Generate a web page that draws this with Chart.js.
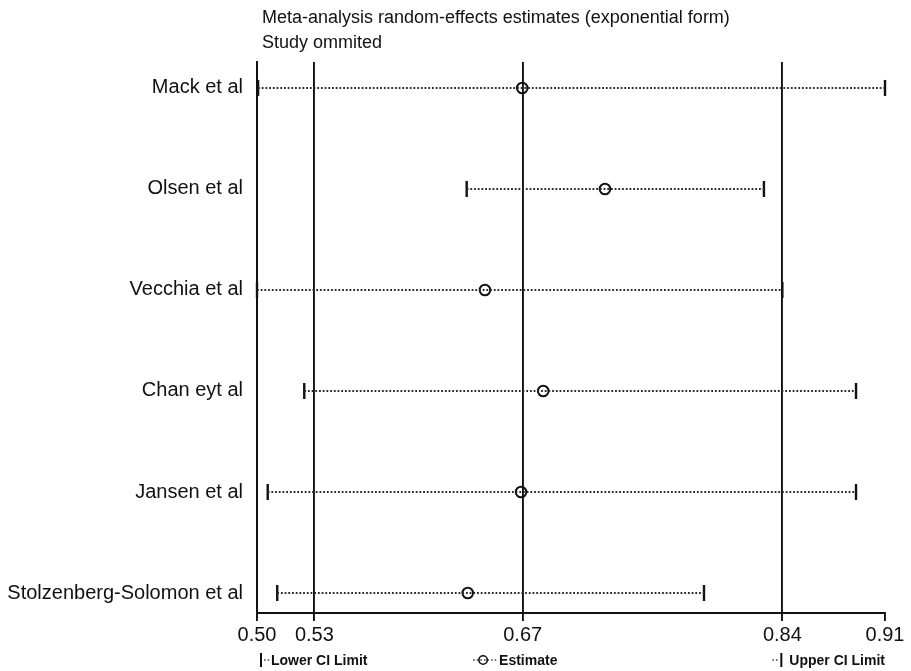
<!DOCTYPE html>
<html>
<head>
<meta charset="utf-8">
<script src="https://cdn.jsdelivr.net/npm/chart.js@4.4.1/dist/chart.umd.min.js"></script>
<style>
html,body{margin:0;padding:0;background:#fff;}
#wrap{width:911px;height:671px;}
</style>
</head>
<body>
<div id="wrap"><canvas id="c" width="911" height="671"></canvas></div>
<script>
const studies = ['Mack et al', 'Olsen et al', 'Vecchia et al', 'Chan eyt al', 'Jansen et al', 'Stolzenberg-Solomon et al'];
const estimate = [0.6722, 0.7270, 0.6475, 0.6861, 0.6714, 0.6361];
const lowerCI  = [0.4972, 0.6354, 0.4965, 0.5278, 0.5036, 0.5099];
const upperCI  = [0.9125, 0.8323, 0.8445, 0.8933, 0.8933, 0.7926];
const tickValues = [0.4965, 0.5345, 0.6725, 0.8445, 0.9125];
const titleLines = ['Meta-analysis random-effects estimates (exponential form)', 'Study ommited'];
const legendLabels = ['Lower CI Limit', 'Estimate', 'Upper CI Limit'];

const INK = '#111';
const FONT = "'Liberation Sans', Arial, sans-serif";

const rows = studies.map((s, i) => i + 1);

const datasets = [];
studies.forEach((s, i) => {
  datasets.push({
    label: s + ' CI',
    data: [{x: lowerCI[i], y: rows[i]}, {x: upperCI[i], y: rows[i]}],
    showLine: true,
    borderColor: '#2a2a2a',
    borderWidth: 1.9,
    borderDash: [1.8, 1.9],
    pointRadius: 0
  });
});
datasets.push({
  label: 'Lower CI Limit',
  data: studies.map((s, i) => ({x: lowerCI[i], y: rows[i]})),
  showLine: false,
  clip: false,
  pointStyle: 'line',
  rotation: 90,
  pointRadius: 8,
  borderWidth: 2.4,
  borderColor: INK
});
datasets.push({
  label: 'Upper CI Limit',
  data: studies.map((s, i) => ({x: upperCI[i], y: rows[i]})),
  showLine: false,
  clip: false,
  pointStyle: 'line',
  rotation: 90,
  pointRadius: 8,
  borderWidth: 2.4,
  borderColor: INK
});
datasets.push({
  label: 'Estimate',
  data: studies.map((s, i) => ({x: estimate[i], y: rows[i]})),
  showLine: false,
  clip: false,
  pointStyle: 'circle',
  pointRadius: 5.3,
  borderWidth: 2,
  borderColor: INK,
  backgroundColor: 'rgba(0,0,0,0)'
});

const decorPlugin = {
  id: 'decor',
  afterDraw(chart) {
    const ctx = chart.ctx;
    const a = chart.chartArea;
    ctx.save();
    // title
    ctx.fillStyle = INK;
    ctx.font = '18px ' + FONT;
    ctx.textAlign = 'left';
    ctx.textBaseline = 'middle';
    ctx.fillText(titleLines[0], a.left + 5, 18);
    ctx.fillText(titleLines[1], a.left + 5, 43);

    // legend
    const ly = a.bottom + 47;
    ctx.font = 'bold 14px ' + FONT;
    ctx.strokeStyle = INK;
    const dots = (x0, x1) => {
      ctx.save();
      ctx.setLineDash([1.6, 2]);
      ctx.lineWidth = 1.6;
      ctx.strokeStyle = '#444';
      ctx.beginPath(); ctx.moveTo(x0, ly); ctx.lineTo(x1, ly); ctx.stroke();
      ctx.restore();
    };
    const bar = (x) => {
      ctx.save();
      ctx.lineWidth = 2;
      ctx.beginPath(); ctx.moveTo(x, ly - 7); ctx.lineTo(x, ly + 7); ctx.stroke();
      ctx.restore();
    };
    // lower
    const lx = a.left + 4;
    bar(lx);
    dots(lx + 3, lx + 9);
    ctx.textAlign = 'left';
    ctx.fillText(legendLabels[0], lx + 10, ly + 1);
    // estimate
    const ex = a.left + (a.right - a.left) * 0.36;
    dots(ex - 10, ex + 14);
    ctx.save();
    ctx.lineWidth = 1.6;
    ctx.beginPath(); ctx.arc(ex, ly, 4.2, 0, Math.PI * 2); ctx.stroke();
    ctx.restore();
    ctx.fillText(legendLabels[1], ex + 16, ly + 1);
    // upper
    ctx.textAlign = 'right';
    const uw = ctx.measureText(legendLabels[2]).width;
    const ux = a.right - uw - 8;
    dots(ux - 9, ux - 2);
    bar(ux);
    ctx.fillText(legendLabels[2], a.right, ly + 1);
    ctx.restore();
  }
};

new Chart(document.getElementById('c'), {
  type: 'scatter',
  data: { datasets },
  plugins: [decorPlugin],
  options: {
    responsive: false,
    animation: false,
    devicePixelRatio: 1,
    layout: { padding: { top: 62, right: 26, left: 0, bottom: 0 } },
    plugins: { legend: { display: false }, tooltip: { enabled: false }, title: { display: false } },
    scales: {
      x: {
        type: 'linear',
        min: tickValues[0],
        max: tickValues[tickValues.length - 1],
        afterBuildTicks(scale) { scale.ticks = tickValues.map(v => ({ value: v })); },
        afterFit(scale) { scale.height = 58; },
        ticks: {
          autoSkip: false,
          maxRotation: 0,
          padding: 2,
          color: INK,
          font: { family: FONT, size: 20 },
          callback: (v) => Number(v).toFixed(2)
        },
        grid: {
          display: true,
          drawOnChartArea: true,
          color: (c) => (c.index === tickValues.length - 1 ? 'rgba(0,0,0,0)' : INK),
          tickColor: INK,
          lineWidth: 1.9,
          tickLength: 8
        },
        border: { display: true, color: INK, width: 1.9 }
      },
      y: {
        type: 'linear',
        reverse: true,
        min: 0.743,
        max: 6.198,
        afterBuildTicks(scale) { scale.ticks = rows.map(v => ({ value: v })); },
        afterFit(scale) { scale.width = 257; },
        ticks: {
          autoSkip: false,
          padding: 14,
          color: INK,
          font: { family: FONT, size: 20 },
          callback: (v) => studies[Math.round(v) - 1] || ''
        },
        grid: { display: false, drawTicks: false },
        border: { display: true, color: INK, width: 1.9 }
      }
    }
  }
});
</script>
</body>
</html>
